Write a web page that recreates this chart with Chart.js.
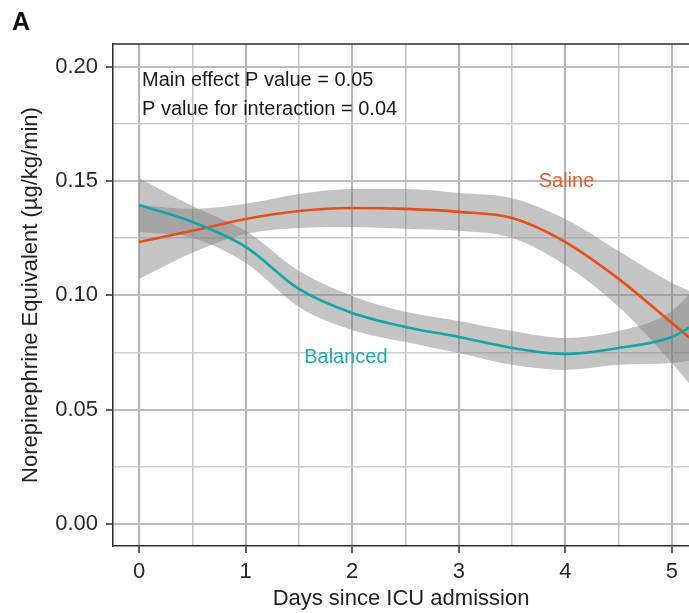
<!DOCTYPE html>
<html>
<head>
<meta charset="utf-8">
<script src="https://cdn.jsdelivr.net/npm/chart.js@4/dist/chart.umd.min.js"></script>
<style>
  html, body { margin: 0; padding: 0; background: #fff; }
  #wrap { width: 689px; height: 613px; position: relative; }
</style>
</head>
<body>
<div id="wrap"><canvas id="c" width="689" height="613"></canvas></div>
<script>
// ---- data ----
const days = [0, 0.5, 1, 1.5, 2, 2.5, 3, 3.5, 4, 4.5, 5, 5.25];

const salineMean  = [0.1233, 0.1282, 0.1334, 0.1369, 0.1382, 0.1378, 0.1365, 0.1338, 0.1233, 0.1072, 0.0879, 0.0783];
const salineLow   = [0.1071, 0.1186, 0.1268, 0.1295, 0.1299, 0.1291, 0.1282, 0.1251, 0.1132, 0.0950, 0.0704, 0.0564];
const salineHigh  = [0.1395, 0.1378, 0.1400, 0.1443, 0.1465, 0.1465, 0.1448, 0.1425, 0.1334, 0.1194, 0.1054, 0.1002];

const balancedMean = [0.1395, 0.1321, 0.1212, 0.1028, 0.0923, 0.0862, 0.0818, 0.0770, 0.0744, 0.0770, 0.0818, 0.0884];
const balancedLow  = [0.1277, 0.1251, 0.1142, 0.0949, 0.0849, 0.0796, 0.0748, 0.0696, 0.0674, 0.0696, 0.0704, 0.0718];
const balancedHigh = [0.1513, 0.1391, 0.1282, 0.1107, 0.0997, 0.0928, 0.0888, 0.0844, 0.0814, 0.0844, 0.0932, 0.1050];

const xTicks = [0, 0.5, 1, 1.5, 2, 2.5, 3, 3.5, 4, 4.5, 5];
const yTicks = [0, 0.025, 0.05, 0.075, 0.1, 0.125, 0.15, 0.175, 0.2];

const FONT = '"Liberation Sans", Arial, Helvetica, sans-serif';
const SALINE = '#e84f18';
const BALANCED = '#14a5a7';
const BAND = 'rgba(131,131,131,0.48)';

const pts = (ys) => days.map((d, i) => ({ x: d, y: ys[i] }));
const isMajor = (v, step) => Math.abs(v / step - Math.round(v / step)) < 1e-6;

// bands go under the lines (higher order = drawn first)
const band = (data, fill) => ({
  data: pts(data), fill: fill, backgroundColor: BAND, borderWidth: 0, order: 2,
  pointRadius: 0, cubicInterpolationMode: 'monotone', clip: 0
});
const line = (data, color) => ({
  data: pts(data), fill: false, borderColor: color, borderWidth: 2.6, order: 1,
  pointRadius: 0, cubicInterpolationMode: 'monotone', clip: 0
});

// text, frame, panel letter
const extras = {
  id: 'extras',
  afterDatasetsDraw(chart) {
    const { ctx, chartArea: a, scales: { x, y } } = chart;
    ctx.save();
    // top border of panel
    ctx.strokeStyle = '#2a2a2a';
    ctx.lineWidth = 1.5;
    ctx.beginPath();
    ctx.moveTo(a.left, a.top);
    ctx.lineTo(a.right, a.top);
    ctx.stroke();

    ctx.textAlign = 'left';
    ctx.textBaseline = 'alphabetic';
    ctx.fillStyle = '#1a1a1a';
    ctx.font = '20px ' + FONT;
    ctx.fillText('Main effect P value = 0.05', 142, 86);
    ctx.fillText('P value for interaction = 0.04', 142, 115);

    ctx.font = '20px ' + FONT;
    ctx.fillStyle = '#ee5a30';
    ctx.fillText('Saline', x.getPixelForValue(3.75), y.getPixelForValue(0.1475));
    ctx.fillStyle = '#1fabad';
    ctx.fillText('Balanced', x.getPixelForValue(1.55), y.getPixelForValue(0.0705));

    ctx.fillStyle = '#111';
    ctx.font = 'bold 25px ' + FONT;
    ctx.fillText('A', 12, 30);
    ctx.restore();
  }
};

new Chart(document.getElementById('c'), {
  type: 'line',
  data: {
    datasets: [
      band(balancedHigh, '+1'),
      band(balancedLow, false),
      band(salineHigh, '+1'),
      band(salineLow, false),
      line(balancedMean, BALANCED),
      line(salineMean, SALINE)
    ]
  },
  options: {
    responsive: false,
    animation: false,
    devicePixelRatio: 1,
    layout: { padding: { top: 44, left: 0, right: 0, bottom: 0 } },
    plugins: { legend: { display: false }, tooltip: { enabled: false } },
    scales: {
      x: {
        type: 'linear', min: -0.244, max: 5.16,
        afterFit: (s) => { s.height = 67; },
        afterBuildTicks: (s) => { s.ticks = xTicks.map(v => ({ value: v })); },
        ticks: {
          autoSkip: false, maxRotation: 0, padding: 6,
          color: '#2a2a2a', font: { family: FONT, size: 22 },
          callback: (v) => isMajor(v, 1) ? String(v) : ''
        },
        grid: {
          drawTicks: true, tickLength: 7, tickWidth: 1.5,
          color: (c) => isMajor(c.tick.value, 1) ? '#b4b4b4' : '#c6c6c6',
          lineWidth: (c) => isMajor(c.tick.value, 1) ? 2 : 1.6,
          tickColor: (c) => isMajor(c.tick.value, 1) ? '#2a2a2a' : 'rgba(0,0,0,0)'
        },
        border: { display: true, color: '#2a2a2a', width: 1.5 },
        title: {
          display: true, text: 'Days since ICU admission',
          color: '#222', font: { family: FONT, size: 22 },
          padding: { top: 0, bottom: 1 }
        }
      },
      y: {
        type: 'linear', min: -0.0096, max: 0.2099,
        afterFit: (s) => { s.width = 113; },
        afterBuildTicks: (s) => { s.ticks = yTicks.map(v => ({ value: v })); },
        ticks: {
          autoSkip: false, padding: 8,
          color: '#2a2a2a', font: { family: FONT, size: 22 },
          callback: (v) => isMajor(v, 0.05) ? v.toFixed(2) : ''
        },
        grid: {
          drawTicks: true, tickLength: 7, tickWidth: 1.5,
          color: (c) => isMajor(c.tick.value, 0.05) ? '#bcbcbc' : '#cdcdcd',
          lineWidth: (c) => isMajor(c.tick.value, 0.05) ? 2 : 1.6,
          tickColor: (c) => isMajor(c.tick.value, 0.05) ? '#2a2a2a' : 'rgba(0,0,0,0)'
        },
        border: { display: true, color: '#2a2a2a', width: 1.5 },
        title: {
          display: true, text: 'Norepinephrine Equivalent (µg/kg/min)',
          color: '#222', font: { family: FONT, size: 22 },
          padding: { top: 18, bottom: 0 }
        }
      }
    }
  },
  plugins: [extras]
});
</script>
</body>
</html>
